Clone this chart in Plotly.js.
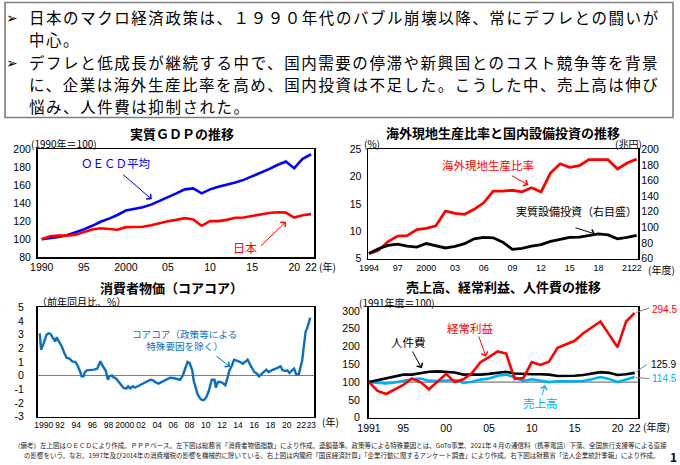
<!DOCTYPE html>
<html>
<head>
<meta charset="utf-8">
<script src="https://cdn.plot.ly/plotly-3.0.1.min.js"></script>
<style>
  html, body { margin: 0; padding: 0; background: #ffffff; }
  #chart { width: 680px; height: 465px; }
</style>
</head>
<body>
<div id="chart"></div>
<script>
// ---- 実質GDP (1990年=100) ----
const gdpYears = [1990, 1991, 1992, 1993, 1994, 1995, 1996, 1997, 1998, 1999,
                  2000, 2001, 2002, 2003, 2004, 2005, 2006, 2007, 2008, 2009,
                  2010, 2011, 2012, 2013, 2014, 2015, 2016, 2017, 2018, 2019,
                  2020, 2021, 2022];
const gdpOecd  = [100, 101, 102.6, 104.4, 107.5, 111, 115, 119.5, 123, 127,
                  132, 133.5, 135.5, 138.5, 142.5, 146.5, 151, 155.5, 156.5, 151,
                  155.5, 158.5, 160.5, 163, 166, 170, 173.5, 178, 182.5, 186.5,
                  179, 189.5, 194.5];
const gdpJapan = [100, 103.4, 104.3, 104.1, 105, 107.8, 111, 112.2, 111, 110.6,
                  113.5, 114, 114, 115.7, 118, 120, 121.6, 123.5, 122, 115,
                  120.2, 120.2, 121.6, 124, 124.3, 126, 127, 129.2, 130, 129.6,
                  124.2, 126.8, 128];
const gdpTickVals = [1990, 1995, 2000, 2005, 2010, 2015, 2020, 2022];
const gdpTickText = ['1990', '95', '2000', '05', '10', '15', '20', '22'];

// ---- 海外現地生産比率(%) と 実質設備投資(兆円) ----
const fyOverseas = [1994, 1995, 1996, 1997, 1998, 1999, 2000, 2001, 2002, 2003,
                    2004, 2005, 2006, 2007, 2008, 2009, 2010, 2011, 2012, 2013,
                    2014, 2015, 2016, 2017, 2018, 2019, 2020, 2021, 2022];
const overseasRatio = [5.9, 6.5, 8.1, 9.1, 9.2, 10.3, 10.5, 11.0, 13.7, 13.25,
                       13.1, 14.0, 15.2, 17.35, 17.35, 17.5, 17.2, 17.95, 17.2, 20.7,
                       22.35, 21.7, 22.0, 23.1, 23.1, 23.1, 21.4, 22.5, 23.2];
const realCapex = [66.3, 72.6, 76.8, 78.5, 76, 74.7, 79.2, 76, 73.5, 75.6,
                   79, 85.3, 87, 86.5, 81, 71.8, 73, 76, 77.7, 81.9,
                   84.4, 87, 87.4, 89.5, 91.6, 90.3, 85.3, 87, 89.5];
const overseasTickVals = [1994, 1997, 2000, 2003, 2006, 2009, 2012, 2015, 2018, 2021, 2022];
const overseasTickText = ['1994', '97', '2000', '03', '06', '09', '12', '15', '18', '21', '22'];

// ---- 消費者物価(コアコア) 前年同月比 ----
const cpiMonths = [
  '1990-01', '1990-02', '1990-03', '1990-07', '1990-11', '1991-02', '1991-05', '1991-08', '1991-12', '1992-02',
  '1992-06', '1992-10', '1993-01', '1993-05', '1993-09', '1994-01', '1994-06', '1994-09', '1995-01', '1995-03',
  '1995-06', '1995-08', '1995-11', '1996-04', '1996-09', '1997-02', '1997-04', '1997-07', '1997-09', '1998-01',
  '1998-03', '1998-06', '1998-08', '1998-12', '1999-02', '1999-06', '1999-10', '2000-01', '2000-05', '2000-09',
  '2000-12', '2001-03', '2001-07', '2001-10', '2002-02', '2002-06', '2002-11', '2003-04', '2003-09', '2004-01',
  '2004-04', '2004-09', '2005-02', '2005-07', '2005-10', '2006-02', '2006-07', '2006-12', '2007-05', '2007-09',
  '2008-01', '2008-04', '2008-07', '2008-11', '2009-01', '2009-04', '2009-07', '2009-11', '2010-02', '2010-05',
  '2010-08', '2010-11', '2011-02', '2011-04', '2011-08', '2011-10', '2012-01', '2012-05', '2012-08', '2012-12',
  '2013-03', '2013-06', '2013-10', '2014-01', '2014-04', '2014-08', '2014-11', '2015-02', '2015-05', '2015-09',
  '2015-12', '2016-04', '2016-07', '2016-11', '2017-02', '2017-05', '2017-09', '2018-01', '2018-04', '2018-08',
  '2018-11', '2019-03', '2019-07', '2019-10', '2020-01', '2020-05', '2020-08', '2020-11', '2021-03', '2021-06',
  '2021-09', '2022-01', '2022-03', '2022-06', '2022-08', '2022-11', '2023-01', '2023-04', '2023-06'];
const cpiValues = [
  3.1, 2.1, 1.9, 2.4, 3.0, 3.1, 3.05, 2.8, 2.5, 2.8,
  2.5, 2.1, 1.7, 1.3, 1.25, 1.05, 1.0, 0.75, 0.27, -0.05,
  -0.05, 0.27, 0.39, 0.39, 0.44, 0.5, 0.75, 1.05, 0.83, 0.5,
  0.34, -0.3, -0.05, 0.02, -0.1, -0.2, -0.46, -0.7, -0.88, -0.95,
  -0.78, -0.93, -0.78, -0.88, -0.78, -0.7, -0.58, -0.46, -0.3, -0.34,
  -0.46, -0.58, -0.46, -0.34, -0.22, -0.15, -0.17, -0.22, -0.3, 0.02,
  0.63, 1.0, 0.93, 0.39, -0.34, -0.95, -1.37, -1.68, -1.8, -1.76,
  -1.56, -1.2, -0.7, -0.3, -0.3, -0.88, -0.46, -0.46, -0.54, -0.7,
  -0.22, 0.39, 0.76, 1.17, 1.12, 1.05, 0.98, 0.88, 1.0, 1.17,
  0.88, 0.51, 0.27, 0.15, -0.05, 0.1, 0.27, 0.44, 0.27, 0.39,
  0.44, 0.51, 0.63, 0.68, 0.39, 0.34, 0.39, 0.2, 0.39, 0.51,
  0.1, 0.1, 0.51, 1.12, 1.98, 3.2, 3.44, 4.0, 4.24];
const cpiTickVals = ['1990-07-01', '1992-07-01', '1994-07-01', '1996-07-01', '1998-07-01', '2000-07-01',
                     '2002-07-01', '2004-07-01', '2006-07-01', '2008-07-01', '2010-07-01', '2012-07-01',
                     '2014-07-01', '2016-07-01', '2018-07-01', '2020-07-01', '2022-04-20', '2023-07-20'];
const cpiTickText = ['1990', '92', '94', '96', '98', '2000', '02', '04', '06', '08', '10', '12',
                     '14', '16', '18', '20', '22', '23'];
const cpiYTickVals = [5, 4, 3, 2, 1, 0, -1, -2, -3];
const cpiYTickText = ['5', '4', '3', '2', '1', '0', '-1', '-2', '-3'];

// ---- 売上高・経常利益・人件費 (1991年度=100) ----
const fyCorp = [1991, 1992, 1993, 1994, 1995, 1996, 1997, 1998, 1999, 2000,
                2001, 2002, 2003, 2004, 2005, 2006, 2007, 2008, 2009, 2010,
                2011, 2012, 2013, 2014, 2015, 2016, 2017, 2018, 2019, 2020,
                2021, 2022];
const sales     = [100, 97, 96, 99, 104, 108, 110, 104, 103, 105,
                   106, 98, 101, 107, 110, 118, 121, 113, 103, 108,
                   105, 100, 102, 103, 103, 103, 108, 114, 109, 100,
                   107, 114.5];
const laborCost = [100, 105, 110, 115, 121, 121, 126, 129, 130, 129,
                   127, 121, 120, 121, 123, 126, 129, 124, 122, 122,
                   122, 121, 117, 117, 118, 120, 123, 128, 126, 120,
                   122, 125.9];
const profit    = [100, 75, 66.5, 80, 92, 110, 100, 80, 101, 123,
                   100, 108, 125, 156, 170, 186, 180, 109, 111, 156,
                   148, 157, 196, 207, 216, 237, 253, 270, 234, 198,
                   270, 294.5];
const corpTickVals = [1991, 1995, 2000, 2005, 2010, 2015, 2020, 2022];
const corpTickText = ['1991', '95', '00', '05', '10', '15', '20', '22'];

// ---- 本文 ----
const bodyLines = [
  '日本のマクロ経済政策は、１９９０年代のバブル崩壊以降、常にデフレとの闘いが',
  '中心。',
  'デフレと低成長が継続する中で、国内需要の停滞や新興国とのコスト競争等を背景',
  'に、企業は海外生産比率を高め、国内投資は不足した。こうした中、売上高は伸び',
  '悩み、人件費は抑制された。'
];

// ---- layout helpers (page is 680 x 465) ----
const W = 680, H = 465;
const px = v => v / W;
const py = v => 1 - v / H;

const CJK = '"Noto Sans CJK JP", "Noto Sans", sans-serif';
const NUM = '"Liberation Sans", Arial, sans-serif';
const BLUE = '#0000ff', RED = '#ff0000', CPIBLUE = '#0a6fc2', SKY = '#00b0f0';

function frameAxis(extra) {
  return Object.assign({
    showline: true, mirror: true, linecolor: '#000000', linewidth: 1.5,
    showgrid: false, zeroline: false, ticks: '', tickangle: 0,
    tickfont: { family: NUM, size: 10.5, color: '#000000' },
    fixedrange: true
  }, extra);
}

function label(text, x, y, size, color, opts) {
  return Object.assign({
    text: text, xref: 'paper', yref: 'paper', x: px(x), y: py(y),
    xanchor: 'center', yanchor: 'middle', showarrow: false,
    font: { family: CJK, size: size, color: color }
  }, opts || {});
}

function arrow(hx, hy, tx, ty, color) {
  return {
    text: '', xref: 'paper', yref: 'paper', x: px(hx), y: py(hy),
    axref: 'pixel', ayref: 'pixel', ax: tx - hx, ay: ty - hy,
    showarrow: true, arrowhead: 4, arrowsize: 1.3, arrowwidth: 1, arrowcolor: color
  };
}

function line(x0, y0, x1, y1, color, width) {
  return { type: 'line', xref: 'paper', yref: 'paper',
           x0: px(x0), y0: py(y0), x1: px(x1), y1: py(y1),
           line: { color: color, width: width } };
}

// body text: one annotation per line, slightly tracked so the lines fill the box
const bodyTops = [16.5, 39, 61.5, 84, 106.5];
const bodyAnnotations = bodyLines.map((t, i) =>
  label('<span style="letter-spacing:1.55px">' + t + '</span>', 27, bodyTops[i], 15.5, '#000000',
        { xanchor: 'left', align: 'left' }));

// ---- traces ----
const traces = [
  { x: gdpYears, y: gdpOecd, xaxis: 'x', yaxis: 'y', type: 'scatter', mode: 'lines',
    line: { color: BLUE, width: 2.6 } },
  { x: gdpYears, y: gdpJapan, xaxis: 'x', yaxis: 'y', type: 'scatter', mode: 'lines',
    line: { color: RED, width: 2.6 } },

  { x: fyOverseas, y: realCapex, xaxis: 'x2', yaxis: 'y3', type: 'scatter', mode: 'lines',
    line: { color: '#000000', width: 2.8 } },
  { x: fyOverseas, y: overseasRatio, xaxis: 'x2', yaxis: 'y2', type: 'scatter', mode: 'lines',
    line: { color: RED, width: 2.8 } },

  { x: cpiMonths, y: cpiValues, xaxis: 'x3', yaxis: 'y4', type: 'scatter', mode: 'lines',
    line: { color: CPIBLUE, width: 2.4 } },

  { x: fyCorp, y: sales, xaxis: 'x4', yaxis: 'y5', type: 'scatter', mode: 'lines',
    line: { color: SKY, width: 2.6 } },
  { x: fyCorp, y: laborCost, xaxis: 'x4', yaxis: 'y5', type: 'scatter', mode: 'lines',
    line: { color: '#000000', width: 2.6 } },
  { x: fyCorp, y: profit, xaxis: 'x4', yaxis: 'y5', type: 'scatter', mode: 'lines',
    line: { color: RED, width: 2.6 } }
];

const last = a => a[a.length - 1];
const endFont = c => ({ family: NUM, size: 10, color: c });

const layout = {
  width: W, height: H,
  margin: { l: 0, r: 0, t: 0, b: 0, pad: 0 },
  paper_bgcolor: '#ffffff', plot_bgcolor: 'rgba(0,0,0,0)',
  showlegend: false,
  font: { family: CJK, color: '#000000' },

  // 実質GDP
  xaxis: frameAxis({ domain: [px(37.5), px(314)], range: [1989.5, 2022.35], anchor: 'y',
                     tickmode: 'array', tickvals: gdpTickVals, ticktext: gdpTickText }),
  yaxis: frameAxis({ domain: [py(257.3), py(149.3)], range: [80, 200], anchor: 'x',
                     tickmode: 'linear', tick0: 80, dtick: 20, ticklabelstandoff: 3 }),

  // 海外現地生産比率
  xaxis2: frameAxis({ domain: [px(368), px(638.3)], range: [1993.9, 2022.17], anchor: 'y2',
                      tickmode: 'array', tickvals: overseasTickVals, ticktext: overseasTickText,
                      tickfont: { family: NUM, size: 9, color: '#000000' } }),
  yaxis2: frameAxis({ domain: [py(258.5), py(149.3)], range: [5, 25], anchor: 'x2',
                      tickmode: 'linear', tick0: 5, dtick: 5, ticklabelstandoff: 3 }),
  yaxis3: frameAxis({ overlaying: 'y2', side: 'right', range: [60, 200], anchor: 'x2',
                      showline: false, mirror: false,
                      tickmode: 'linear', tick0: 60, dtick: 20, ticklabelstandoff: 2 }),

  // 消費者物価
  xaxis3: frameAxis({ domain: [px(37.5), px(314)], type: 'date',
                      range: ['1989-09-20', '2023-11-15'], anchor: 'y4',
                      tickmode: 'array', tickvals: cpiTickVals, ticktext: cpiTickText,
                      tickfont: { family: NUM, size: 8.5, color: '#000000' } }),
  yaxis4: frameAxis({ domain: [py(416.7), py(307.3)], range: [-3, 5], anchor: 'x3',
                      tickmode: 'array', tickvals: cpiYTickVals, ticktext: cpiYTickText,
                      zeroline: true, zerolinecolor: '#7f7f7f', zerolinewidth: 1,
                      ticklabelstandoff: 10 }),

  // 売上高・経常利益・人件費
  xaxis4: frameAxis({ domain: [px(368.5), px(638.3)], range: [1990.94, 2022.42], anchor: 'y5',
                      tickmode: 'array', tickvals: corpTickVals, ticktext: corpTickText }),
  yaxis5: frameAxis({ domain: [py(417.7), py(307.3)], range: [0, 310], anchor: 'x4',
                      tickmode: 'linear', tick0: 0, dtick: 50, ticklabelstandoff: 5 }),

  shapes: [
    // 本文の枠
    { type: 'rect', xref: 'paper', yref: 'paper',
      x0: px(5), x1: px(673), y0: py(2.5), y1: py(117.5),
      line: { color: '#7f7f7f', width: 1.6 } },
    // 1991年度=100 の基準線
    { type: 'line', xref: 'x4 domain', yref: 'y5', x0: 0, x1: 1, y0: 100, y1: 100,
      layer: 'below', line: { color: '#595959', width: 1 } },
    // 最新値ラベルへの引き出し線
    line(636, 312.5, 649, 308, '#7f7f7f', 1),
    line(636, 372, 647, 364.5, '#7f7f7f', 1),
    line(636, 377.5, 649, 378.5, '#7f7f7f', 1)
  ],

  annotations: [
    // 本文
    label('➢', 12, 16.8, 14, '#000000'),
    label('➢', 12, 61.8, 14, '#000000'),
    ...bodyAnnotations,

    // 実質GDP
    label('<b>実質ＧＤＰの推移</b>', 181.5, 133, 13, '#000000'),
    label('(1990年＝100)', 64, 143, 10, '#000000'),
    label('(年)', 327, 266.7, 10, '#000000'),
    label('ＯＥＣＤ平均', 115, 162.7, 11.5, BLUE),
    label('日本', 245, 247.3, 12, RED),
    arrow(151.7, 199.3, 121.7, 173.3, BLUE),
    arrow(286, 221.7, 259.3, 247.3, RED),

    // 海外現地生産比率
    label('<b>海外現地生産比率と国内設備投資の推移</b>', 502.5, 132.5, 13, '#000000'),
    label('(%)', 371.7, 143, 10, '#000000'),
    label('(兆円)', 628, 143, 10, '#000000'),
    label('(年度)', 661, 269.3, 10, '#000000'),
    label('海外現地生産比率', 488.3, 165, 11.5, RED),
    label('実質設備投資（右目盛）', 576.7, 211, 11, '#000000'),
    arrow(528.3, 185, 510.5, 175, RED),
    arrow(595, 234, 574, 227.3, '#000000'),

    // 消費者物価
    label('<b>消費者物価（コアコア）</b>', 171.7, 287, 13, '#000000'),
    label('（前年同月比、%）', 81.7, 301, 10, '#000000'),
    label('(年)', 330, 421.7, 10, '#000000'),
    label('コアコア（政策等による<br>特殊要因を除く）', 184.5, 340.2, 9.6, CPIBLUE),
    arrow(230, 366.7, 215, 355, CPIBLUE),

    // 売上高・経常利益・人件費
    label('<b>売上高、経常利益、人件費の推移</b>', 503, 286.5, 13, '#000000'),
    label('(1991年度＝100)', 396.7, 302.5, 10, '#000000'),
    label('(年度)', 656, 426.7, 10, '#000000'),
    label('経常利益', 470, 328.3, 11.5, RED),
    label('人件費', 408.3, 342.3, 11.5, '#000000'),
    label('売上高', 540, 403.3, 11.5, SKY),
    arrow(486, 356.7, 478.3, 335, RED),
    arrow(421.7, 368.3, 411.7, 350, '#000000'),
    arrow(545, 385, 541.7, 396.7, SKY),
    label(last(profit).toFixed(1), 650, 309.3, 10, RED, { xanchor: 'left', font: endFont(RED) }),
    label(last(laborCost).toFixed(1), 648.5, 364.7, 10, '#000000', { xanchor: 'left', font: endFont('#000000') }),
    label(last(sales).toFixed(1), 650, 378.7, 10, SKY, { xanchor: 'left', font: endFont(SKY) }),

    // 脚注
    label('（備考）左上図はＯＥＣＤにより作成。ＰＰＰベース。左下図は総務省「消費者物価指数」により作成。連鎖基準。政策等による特殊要因とは、GoTo事業、2021年４月の通信料（携帯電話）下落、全国旅行支援等による直接',
          12, 445, 6.5, '#222222', { xanchor: 'left' }),
    label('の影響をいう。なお、1997年及び2014年の消費増税の影響を機械的に除いている。右上図は内閣府「国民経済計算」「企業行動に関するアンケート調査」により作成。右下図は財務省「法人企業統計季報」により作成。',
          22, 455, 6.5, '#222222', { xanchor: 'left' }),
    label('<b>1</b>', 673, 456, 12, '#000000')
  ]
};

Plotly.newPlot('chart', traces, layout, { staticPlot: true, displayModeBar: false });
</script>
</body>
</html>
